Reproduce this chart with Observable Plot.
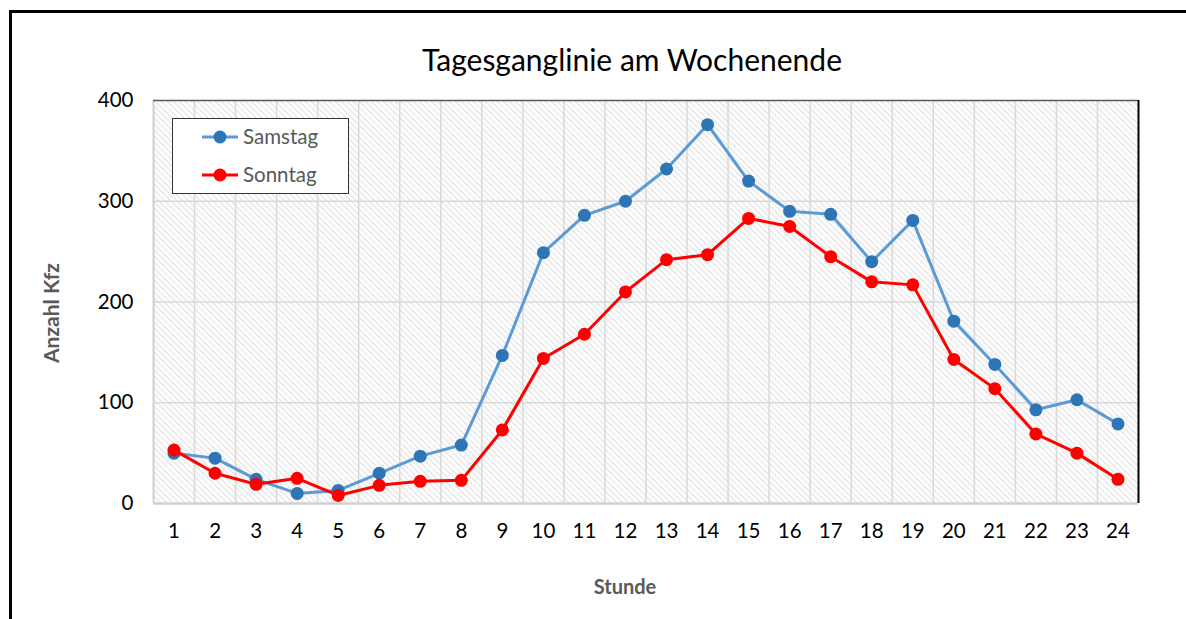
<!DOCTYPE html>
<html><head><meta charset="utf-8">
<script src="https://cdn.jsdelivr.net/npm/d3@7"></script>
<script src="https://cdn.jsdelivr.net/npm/@observablehq/plot@0.6"></script>
<style>
body{margin:0;background:#fff;font-family:Lato,"Open Sans",sans-serif;}
#wrap{position:relative;width:1186px;height:619px;overflow:hidden;}
#frame{position:absolute;left:9px;top:10px;width:1220px;height:700px;border:3px solid #000;box-sizing:border-box;pointer-events:none;}
#title{position:absolute;left:0;width:1264px;top:41px;text-align:center;font-size:30px;color:#000;}
#ylab{position:absolute;left:50px;top:313px;transform:translate(-50%,-50%) rotate(-90deg);font-weight:bold;font-size:21px;color:#595959;white-space:nowrap;}
#xlab{position:absolute;left:625px;top:586px;transform:translate(-50%,-50%);font-weight:bold;font-size:20px;color:#595959;}
#legend{position:absolute;left:172px;top:118px;width:177px;height:76px;border:1.5px solid #333;background:#fff;box-sizing:border-box;}
#chart{position:absolute;left:0;top:0;}
</style></head>
<body>
<div id="wrap">
  <div id="chart"></div>
  <div id="frame"></div>
  <div id="title">Tagesganglinie am Wochenende</div>
  <div id="ylab">Anzahl Kfz</div>
  <div id="xlab">Stunde</div>
  <div id="legend"></div>
</div>
<script>
const hours = [1,2,3,4,5,6,7,8,9,10,11,12,13,14,15,16,17,18,19,20,21,22,23,24];
const samstag = [50,45,24,10,13,30,47,58,147,249,286,300,332,376,320,290,287,240,281,181,138,93,103,79];
const sonntag = [53,30,19,25,8,18,22,23,73,144,168,210,242,247,283,275,245,220,217,143,114,69,50,24];
const yTicks = [0,100,200,300,400];
const seriesNames = ["Samstag","Sonntag"];
const lineColors = ["#5B9BD5","#FF0000"];
const dotColors = ["#2E75B6","#FF0000"];

const rowsSa = hours.map((h,i)=>({h, v:samstag[i]}));
const rowsSo = hours.map((h,i)=>({h, v:sonntag[i]}));
const gridX = hours.slice(0,-1).map(h=>h+0.5);

const chart = Plot.plot({
  width:1186, height:619,
  marginLeft:153, marginRight:48, marginTop:100, marginBottom:116,
  style:{fontFamily:"Lato, 'Open Sans', sans-serif", fontSize:"20.5px", color:"#000", background:"transparent"},
  x:{domain:[0.5,24.5]},
  y:{domain:[0,400]},
  marks:[
    Plot.frame({fill:"url(#hatch)", stroke:null}),
    Plot.ruleX(gridX, {stroke:"#d9d9d9", strokeWidth:1.5}),
    Plot.ruleY([100,200,300], {stroke:"#d9d9d9", strokeWidth:1.5}),
    Plot.ruleX([0.5], {stroke:"#d0d0d0", strokeWidth:2}),
    Plot.ruleY([0], {stroke:"#d0d0d0", strokeWidth:2.5}),
    Plot.ruleY([400], {stroke:"#595959", strokeWidth:1.5}),
    Plot.ruleX([24.5], {stroke:"#000", strokeWidth:2}),
    Plot.axisX({ticks:hours, tickSize:0, tickPadding:20, label:null, tickFormat:d=>String(d)}),
    Plot.axisY({ticks:yTicks, tickSize:0, tickPadding:20, label:null}),
    Plot.line(rowsSa, {x:"h", y:"v", stroke:lineColors[0], strokeWidth:3}),
    Plot.dot(rowsSa, {x:"h", y:"v", r:6.5, fill:dotColors[0], stroke:null}),
    Plot.line(rowsSo, {x:"h", y:"v", stroke:lineColors[1], strokeWidth:3}),
    Plot.dot(rowsSo, {x:"h", y:"v", r:6.5, fill:dotColors[1], stroke:null})
  ]
});

// hatch pattern
const ns = "http://www.w3.org/2000/svg";
const defs = document.createElementNS(ns,"defs");
defs.innerHTML = `<pattern id="hatch" patternUnits="userSpaceOnUse" width="6" height="6">
  <rect width="6" height="6" fill="#ffffff"/>
  <path d="M-1,5 l2,2 M0,0 l6,6 M5,-1 l2,2" stroke="#e2e2e2" stroke-width="1.3"/>
</pattern>`;
chart.insertBefore(defs, chart.firstChild);
document.getElementById("chart").appendChild(chart);

// legend
const lg = d3.select("#legend").append("svg").attr("width",174).attr("height",73);
seriesNames.forEach((n,i)=>{
  const g = lg.append("g").attr("transform",`translate(0,${18+i*38})`);
  g.append("line").attr("x1",29).attr("x2",65).attr("y1",0).attr("y2",0).attr("stroke",lineColors[i]).attr("stroke-width",3);
  g.append("circle").attr("cx",47).attr("cy",0).attr("r",6.5).attr("fill",dotColors[i]);
  g.append("text").attr("x",70).attr("y",7).text(n).attr("font-size",20.5).attr("fill","#595959").attr("font-family","Lato, 'Open Sans', sans-serif");
});
</script>
</body></html>
